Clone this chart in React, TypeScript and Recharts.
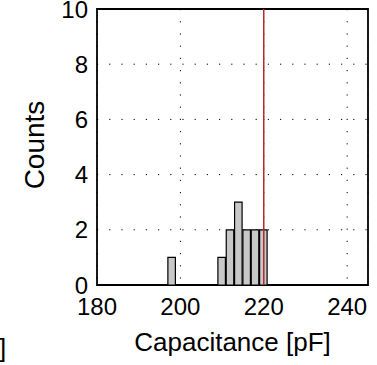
import React from 'react';
import {
  ComposedChart,
  Bar,
  XAxis,
  YAxis,
  CartesianGrid,
  ReferenceLine,
  ReferenceArea,
  Label,
} from 'recharts';

// histogram bins (centre of each 2 pF bin) and counts
const binCenters = [198, 210, 212, 214, 216, 218, 220];
const counts = [1, 1, 2, 3, 2, 2, 2];
const binWidth = 2;

const xTicks = [180, 200, 220, 240];
const yTicks = [0, 2, 4, 6, 8, 10];
const xDomain = [180, 245];
const yDomain = [0, 10];
const targetValue = 220;

const FONT = '"Liberation Sans", Arial, Helvetica, sans-serif';

const W = 377;
const H = 365;
const margin = { top: 9, right: 9, bottom: 0, left: 0 };
const yAxisWidth = 97;
const xAxisHeight = 80;

const data = binCenters.map((c, i) => ({ x: c, count: counts[i] }));

const plotWidth = W - margin.left - margin.right - yAxisWidth;
const barSize = (plotWidth * binWidth) / (xDomain[1] - xDomain[0]);

const CountsLabel = (props: any) => {
  const vb = props.viewBox || {};
  const cx = vb.x + 43.5;
  const cy = vb.y + vb.height / 2 - 2;
  return (
    <text
      x={cx}
      y={cy}
      transform={`rotate(-90 ${cx} ${cy})`}
      textAnchor="middle"
      fontSize={28}
      fontFamily={FONT}
      fill="#000"
    >
      Counts
    </text>
  );
};

export default function App() {
  return (
    <div style={{ position: 'absolute', left: 0, top: 0, width: W, height: H, background: '#fff', overflow: 'hidden' }}>
      <ComposedChart
        width={W}
        height={H}
        data={data}
        margin={margin}
        barCategoryGap={0}
        barGap={0}
      >
        <CartesianGrid stroke="#000" strokeDasharray="1.2 11" strokeWidth={1} />
        <XAxis
          dataKey="x"
          type="number"
          domain={xDomain}
          ticks={xTicks}
          allowDataOverflow
          height={xAxisHeight}
          axisLine={false}
          tickLine={false}
          tickSize={0}
          tickMargin={13}
          tick={{ fill: '#000', fontSize: 24, fontFamily: FONT }}
          interval={0}
        >
          <Label
            value="Capacitance [pF]"
            position="insideBottom"
            offset={14}
            style={{ fill: '#000', fontSize: 26, fontFamily: FONT }}
          />
        </XAxis>
        <YAxis
          type="number"
          domain={yDomain}
          ticks={yTicks}
          width={yAxisWidth}
          axisLine={false}
          tickLine={false}
          tickSize={0}
          tickMargin={9}
          tick={{ fill: '#000', fontSize: 24, fontFamily: FONT }}
          interval={0}
        >
          <Label content={<CountsLabel />} />
        </YAxis>
        <Bar
          dataKey="count"
          fill="#c8c8c8"
          stroke="#000"
          strokeWidth={1.2}
          barSize={barSize}
          isAnimationActive={false}
        />
        <ReferenceLine x={targetValue} stroke="#b8262a" strokeWidth={1.5} />
        <ReferenceArea
          x1={xDomain[0]}
          x2={xDomain[1]}
          y1={yDomain[0]}
          y2={yDomain[1]}
          fill="none"
          stroke="#000"
          strokeWidth={1.8}
        />
      </ComposedChart>
      <div
        style={{
          position: 'absolute',
          left: -1,
          top: 335,
          fontSize: 26,
          fontFamily: FONT,
          lineHeight: '26px',
          color: '#000',
        }}
      >
        ]
      </div>
    </div>
  );
}
